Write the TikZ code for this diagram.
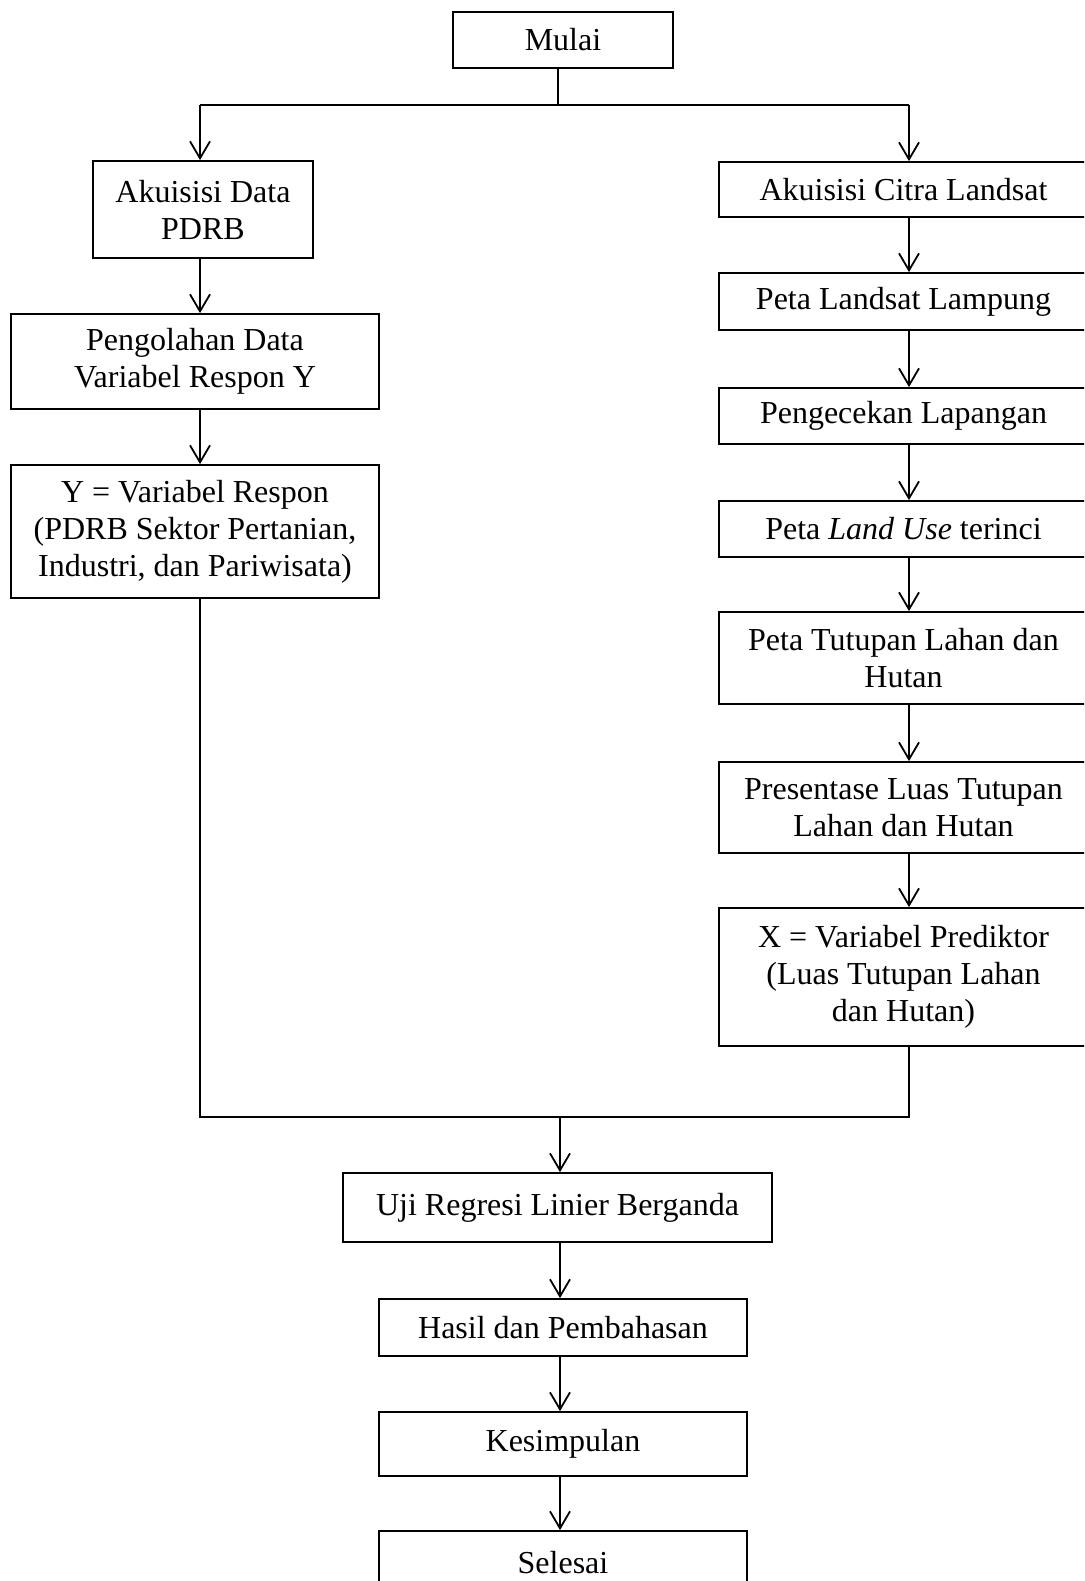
\documentclass[tikz,border=0pt]{standalone}
\usepackage{fontspec}
\setmainfont{Liberation Serif}
\usetikzlibrary{arrows.meta}
\begin{document}
\begin{tikzpicture}[x=1pt,y=-1pt,
  box/.style={draw, line width=1.8pt, inner sep=0pt, align=center, font=\fontsize{32}{37}\selectfont},
  arr/.style={line width=1.8pt, -{Straight Barb[length=17pt,width=20pt,line width=1.8pt]}},
  ln/.style={line width=1.8pt}]
\useasboundingbox (0,0) rectangle (1084,1581);
\clip (0,0) rectangle (1084,1581);
% named x positions
\coordinate (lx) at (200,0);
\coordinate (rx) at (909,0);
\coordinate (tx) at (558,0);
\coordinate (mx) at (560,0);
\coordinate (topy) at (0,105);
\coordinate (boty) at (0,1117);
% nodes
\node[box, minimum width=220pt, minimum height=56pt] (mulai) at (563,40) {Mulai};
\node[box, minimum width=220pt, minimum height=97pt] (akd) at (203,209.5) {Akuisisi Data\\PDRB};
\node[box, minimum width=368pt, minimum height=95pt] (peng) at (195,361.5) {Pengolahan Data\\Variabel Respon Y};
\node[box, minimum width=368pt, minimum height=133pt] (yv) at (195,531.5) {Y = Variabel Respon\\(PDRB Sektor Pertanian,\\Industri, dan Pariwisata)};
\node[box, minimum width=369pt, minimum height=55pt] (cl1) at (903.5,189.5) {Akuisisi Citra Landsat};
\node[box, minimum width=369pt, minimum height=57pt] (cl2) at (903.5,301.5) {Peta Landsat Lampung};
\node[box, minimum width=369pt, minimum height=56pt] (cek) at (903.5,416) {Pengecekan Lapangan};
\node[box, minimum width=369pt, minimum height=56pt] (lu) at (903.5,529) {Peta \textit{Land Use} terinci};
\node[box, minimum width=369pt, minimum height=92pt] (tut) at (903.5,658) {Peta Tutupan Lahan dan\\Hutan};
\node[box, minimum width=369pt, minimum height=91pt] (pres) at (903.5,807.5) {Presentase Luas Tutupan\\Lahan dan Hutan};
\node[box, minimum width=369pt, minimum height=138pt] (xv) at (903.5,977) {X = Variabel Prediktor\\(Luas Tutupan Lahan\\dan Hutan)};
\node[box, minimum width=429pt, minimum height=69pt] (uji) at (557.5,1207.5) {Uji Regresi Linier Berganda};
\node[box, minimum width=368pt, minimum height=57pt] (hasil) at (563,1327.5) {Hasil dan Pembahasan};
\node[box, minimum width=368pt, minimum height=64pt] (kes) at (563,1444) {Kesimpulan};
\node[box, minimum width=368pt, minimum height=64pt] (sel) at (563,1563) {Selesai};
% top split
\draw[ln] (mulai.south -| tx) -- (topy -| tx);
\draw[arr] (topy -| lx) -- (akd.north -| lx);
\draw[arr] (topy -| rx) -- (cl1.north -| rx);
\draw[ln] (topy -| lx) -- (topy -| rx);
% left column
\draw[arr] (akd.south -| lx) -- (peng.north -| lx);
\draw[arr] (peng.south -| lx) -- (yv.north -| lx);
% right column
\draw[arr] (cl1.south -| rx) -- (cl2.north -| rx);
\draw[arr] (cl2.south -| rx) -- (cek.north -| rx);
\draw[arr] (cek.south -| rx) -- (lu.north -| rx);
\draw[arr] (lu.south -| rx) -- (tut.north -| rx);
\draw[arr] (tut.south -| rx) -- (pres.north -| rx);
\draw[arr] (pres.south -| rx) -- (xv.north -| rx);
% merge
\draw[ln] (yv.south -| lx) -- (boty -| lx) -- (boty -| rx) -- (xv.south -| rx);
\draw[arr] (boty -| mx) -- (uji.north -| mx);
% bottom column
\draw[arr] (uji.south -| mx) -- (hasil.north -| mx);
\draw[arr] (hasil.south -| mx) -- (kes.north -| mx);
\draw[arr] (kes.south -| mx) -- (sel.north -| mx);
\end{tikzpicture}
\end{document}
